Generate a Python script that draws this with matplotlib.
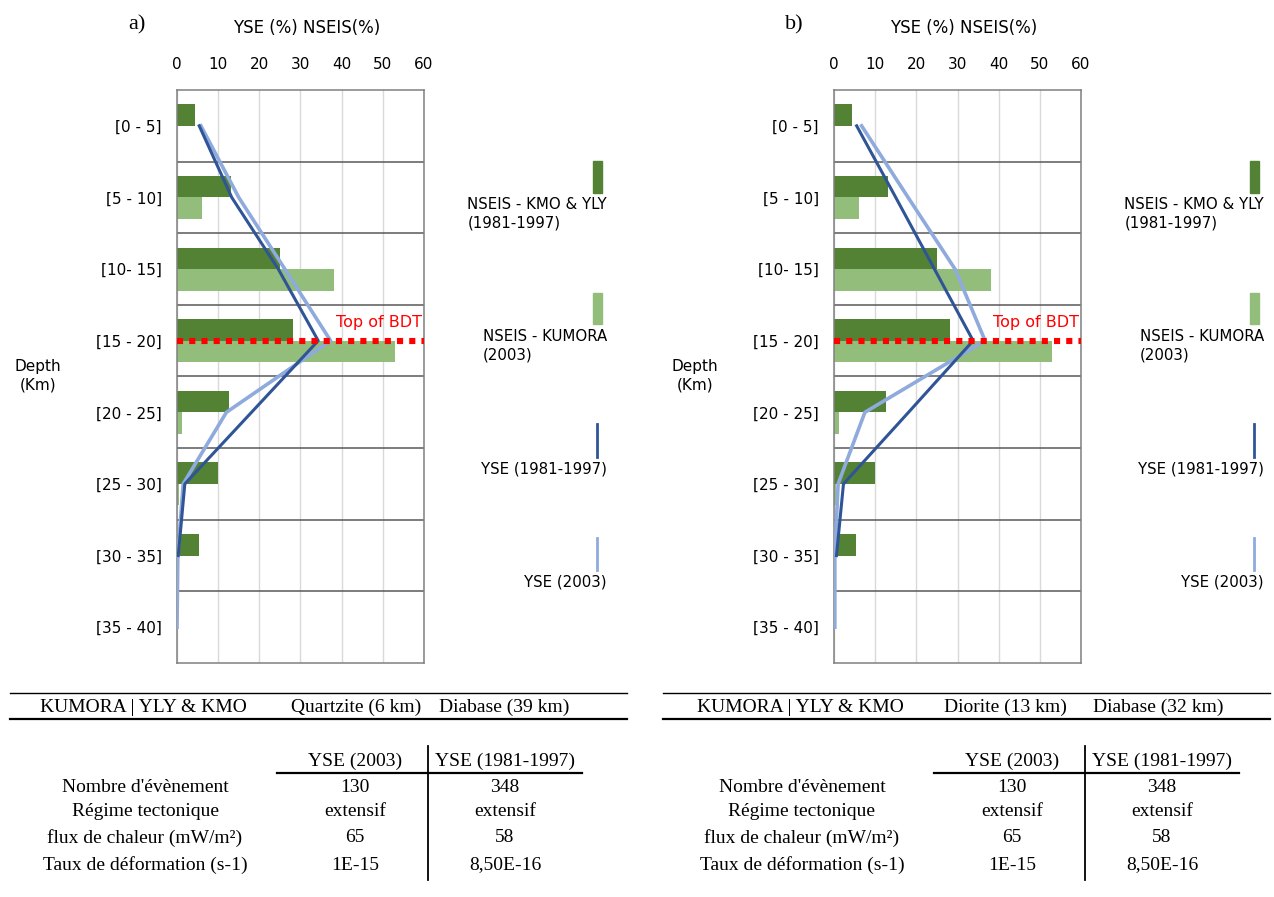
import matplotlib.pyplot as plt
import numpy as np
from matplotlib.lines import Line2D
from matplotlib.patches import Rectangle

W, H = 1274, 897

depth_bins = ['[0 - 5]', '[5 - 10]', '[10- 15]', '[15 - 20]',
              '[20 - 25]', '[25 - 30]', '[30 - 35]', '[35 - 40]']
nseis_kmo_yly = [4.4, 13.2, 25.0, 28.2, 12.7, 10.0, 5.3, 0.3]
nseis_kumora = [0.0, 6.1, 38.2, 52.9, 1.3, 0.4, 0.0, 0.0]

# YSE curves, panel a (quartzite / diabase)
yse_8197_a = [5.4, 13.3, 24.6, 34.3, 18.1, 1.9, 0.3, np.nan]
yse_2003_a = [5.8, 15.0, 26.2, 37.3, 12.0, 1.5, 0.2, 0.0]
# YSE curves, panel b (diorite / diabase)
yse_8197_b = [5.5, 15.0, 24.4, 33.8, 18.1, 2.3, 0.6, np.nan]
yse_2003_b = [6.7, 18.0, 29.4, 36.7, 7.5, 1.0, 0.2, 0.2]
bdt_bin = 3

legend_labels = ['NSEIS - KMO & YLY\n(1981-1997)', 'NSEIS - KUMORA\n(2003)',
                 'YSE (1981-1997)', 'YSE (2003)']

rock_a = ['Quartzite (6 km)', 'Diabase (39 km)']
rock_b = ['Diorite (13 km)', 'Diabase (32 km)']
row_names = ["Nombre d'évènement", 'Régime tectonique',
             'flux de chaleur (mW/m²)', 'Taux de déformation (s-1)']
col_names = ['YSE (2003)', 'YSE (1981-1997)']
vals_2003 = ['130', 'extensif', '65', '1E-15']
vals_8197 = ['348', 'extensif', '58', '8,50E-16']

DARK_G = '#548235'
LIGHT_G = '#92bd7a'
DARK_B = '#2f5597'
LIGHT_B = '#8faadc'

fig = plt.figure(figsize=(W / 100, H / 100), dpi=100)


def chart(x0, yse_8197, yse_2003, tag):
    ax = fig.add_axes([x0 / W, (H - 663) / H, 247 / W, 573 / H])
    y = np.arange(len(depth_bins))
    ax.barh(y - 0.15, nseis_kmo_yly, height=0.30, color=DARK_G, zorder=2)
    ax.barh(y + 0.15, nseis_kumora, height=0.30, color=LIGHT_G, zorder=2)
    ax.plot(yse_2003, y, color=LIGHT_B, lw=2.6, zorder=3)
    ax.plot(yse_8197, y, color=DARK_B, lw=2.2, zorder=4)
    ax.axhline(bdt_bin, color='#ff0000', lw=4.4, dashes=(1, 1), zorder=5)
    ax.text(59.6, bdt_bin - 0.25, 'Top of BDT', color='#ff0000',
            fontsize=11.5, ha='right', va='center', zorder=6)
    for s in np.arange(0.5, len(depth_bins) - 1, 1):
        ax.axhline(s, color='#595959', lw=1.1, zorder=1)
    ax.set_xlim(0, 60)
    ax.set_ylim(len(depth_bins) - 0.5, -0.5)
    ax.set_xticks(range(0, 61, 10))
    ax.set_yticks(y)
    ax.set_yticklabels(depth_bins, fontsize=11)
    ax.xaxis.tick_top()
    ax.tick_params(axis='x', length=0, pad=13, labelsize=11)
    ax.tick_params(axis='y', length=0, pad=11)
    ax.grid(axis='x', color='#d9d9d9', lw=1.0, zorder=0)
    ax.set_axisbelow(True)
    for sp in ax.spines.values():
        sp.set_color('#808080')
        sp.set_linewidth(1.1)
    off = x0 - 177
    fig.text((307 + off) / W, 1 - 28 / H, 'YSE (%) NSEIS(%)', fontsize=12,
             ha='center', va='center')
    fig.text((38 + off) / W, 1 - 376 / H, 'Depth\n(Km)', fontsize=11,
             ha='center', va='center', linespacing=1.3)
    fig.text((137 + off) / W, 1 - 25 / H, tag, fontsize=16,
             family='Liberation Serif', ha='center', va='center')


chart(177, yse_8197_a, yse_2003_a, 'a)')
chart(834, yse_8197_b, yse_2003_b, 'b)')

# overlay in pixel units for legends and tables
ov = fig.add_axes([0, 0, 1, 1])
ov.set_xlim(0, W)
ov.set_ylim(H, 0)
ov.axis('off')
ov.patch.set_visible(False)

serif = dict(family='Liberation Serif', fontsize=14, ha='center', va='center')

for off, rocks, (l0, l1) in [(0, rock_a, (10, 627)), (657, rock_b, (663, 1270))]:
    # legend
    lx = 597 + off
    ov.add_patch(Rectangle((lx - 4.5, 161), 9, 32, color=DARK_G))
    ov.add_patch(Rectangle((lx - 4.5, 293), 9, 31, color=LIGHT_G))
    ov.add_line(Line2D([lx, lx], [424, 457], color=DARK_B, lw=2.0))
    ov.add_line(Line2D([lx, lx], [538, 570], color=LIGHT_B, lw=2.0))
    for lab, ty in zip(legend_labels, [214, 346, 469, 582]):
        ov.text(607 + off, ty, lab, fontsize=10.8, ha='right', va='center',
                multialignment='left', linespacing=1.3)

    # rock header table
    ov.add_line(Line2D([l0, l1], [693, 693], color='black', lw=1.0))
    ov.add_line(Line2D([l0, l1], [719, 719], color='black', lw=1.6))
    ov.text(143 + off, 707, 'KUMORA | YLY & KMO', **serif)
    ov.text(356 + off - (8 if off else 0), 707, rocks[0], **serif)
    ov.text(504 + off - (3 if off else 0), 707, rocks[1], **serif)

    # YSE parameter table
    ov.add_line(Line2D([428 + off, 428 + off], [746, 880], color='black', lw=1.3))
    ov.add_line(Line2D([277 + off, 582 + off], [773, 773], color='black', lw=1.6))
    ov.text(355 + off, 761, col_names[0], **serif)
    ov.text(505 + off, 761, col_names[1], **serif)
    for ry, name, v1, v2 in zip([787, 812, 838, 865], row_names, vals_2003, vals_8197):
        ov.text(145 + off, ry, name, **serif)
        ov.text(355 + off, ry, v1, **serif)
        ov.text(505 + off, ry, v2, **serif)

fig.savefig('out.png', dpi=100)
